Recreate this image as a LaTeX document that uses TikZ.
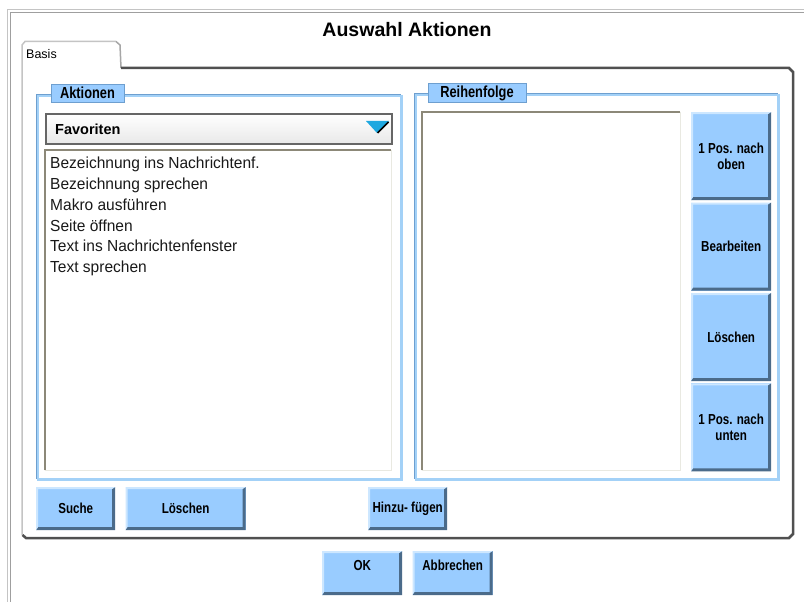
\documentclass[tikz,border=0pt]{standalone}
\usepackage{fontspec}
\setmainfont{Liberation Sans}
\newfontfamily\btnfont[FakeStretch=0.8]{Liberation Sans}
\newfontfamily\listfont[FakeStretch=0.97]{Liberation Sans}
\usepackage{tikz}
\usetikzlibrary{positioning}

\definecolor{btnfill}{HTML}{99CCFF}
\definecolor{btnlite}{HTML}{CDE7FF}
\definecolor{btndark}{HTML}{4B6B8A}
\definecolor{grplite}{HTML}{A3D1F7}
\definecolor{grpdark}{HTML}{6E9FCF}
\definecolor{lstedge}{HTML}{8C8878}
\definecolor{lstlite}{HTML}{E9E9E1}
\definecolor{pnldark}{HTML}{505050}
\definecolor{pnllite}{HTML}{C4C4C4}
\definecolor{arrowcyan}{HTML}{1FA8E0}

\tikzset{
  btn/.style={fill=btnfill, inner sep=0pt, align=center, text=black,
    font=\btnfont\bfseries\fontsize{14.5}{15.5}\selectfont,
    path picture={
      \fill[btnlite] (path picture bounding box.south west) -- (path picture bounding box.north west)
        -- (path picture bounding box.north east) -- ([xshift=-3pt,yshift=-2pt]path picture bounding box.north east)
        -- ([xshift=2pt,yshift=-2pt]path picture bounding box.north west) -- ([xshift=2pt,yshift=3pt]path picture bounding box.south west) -- cycle;
      \fill[btndark] (path picture bounding box.north east) -- (path picture bounding box.south east)
        -- (path picture bounding box.south west) -- ([xshift=2pt,yshift=3pt]path picture bounding box.south west)
        -- ([xshift=-3pt,yshift=3pt]path picture bounding box.south east) -- ([xshift=-3pt,yshift=-2pt]path picture bounding box.north east) -- cycle;
    }},
  sidebtn/.style={btn, minimum width=80pt, minimum height=88pt},
  lowbtn/.style={btn, minimum width=79pt, minimum height=43pt},
  dlgbtn/.style={btn, minimum width=80pt, minimum height=44pt, text depth=15pt},
  grphead/.style={fill=btnfill, draw=grpdark, line width=0.6pt, inner sep=0pt,
    font=\btnfont\bfseries\fontsize{16}{17}\selectfont},
  lst/.style={fill=white, inner sep=0pt}
}

\begin{document}
\begin{tikzpicture}[x=1pt, y=-1pt]
  \useasboundingbox (0,0) rectangle (804,602);
  \fill[white] (0,0) rectangle (804,602);

  % Window frame
  \draw[pnllite, line width=1pt] (7.5,602) -- (7.5,10) -- (804,10);
  \draw[gray!75, line width=1pt] (10.5,602) -- (10.5,12.5) -- (804,12.5);

  % Title
  \node[font=\bfseries\fontsize{19.5}{22}\selectfont] (title) at (407,30) {Auswahl Aktionen};

  % Tab and panel
  \draw[pnllite, line width=1.5pt] (22,535) -- (22,45) -- (25,41.5) -- (116,41.5);
  \draw[gray!70, line width=1.5pt] (116,41.5) -- (120,45) -- (121,68);
  \draw[pnldark, line width=2.5pt] (121,68) -- (789,68) -- (793,72) -- (793,534) -- (789,538) -- (26,538) -- (22.5,535);
  \node[anchor=west, font=\fontsize{12.5}{14}\selectfont, inner sep=0pt] (tab) at (26,54) {Basis};

  % Group frames
  \draw[grpdark, line width=0.8pt] (36,94) rectangle (400,478);
  \draw[grplite, line width=2.2pt] (38,96) rectangle (401.5,479.5);
  \draw[grpdark, line width=0.8pt] (414,93) rectangle (777,478);
  \draw[grplite, line width=2.2pt] (416,95) rectangle (778.5,479.5);
  \node[grphead, minimum width=73pt, minimum height=18pt] (aktionen) at (87.5,93) {Aktionen};
  \node[grphead, minimum width=98pt, minimum height=19pt] (reihen) at (477,93) {Reihenfolge};

  % Combo box
  \node[draw=gray!80!black, line width=2pt, top color=white, bottom color=gray!18,
        minimum width=346pt, minimum height=30pt, anchor=north west] (favoriten) at (45,113) {};
  \node[anchor=west, inner sep=0pt, font=\bfseries\fontsize{14.5}{16}\selectfont] (favtext) at ([xshift=10pt]favoriten.west) {Favoriten};
  \fill[arrowcyan] (366,121) -- (389,121) -- (377,133) -- cycle;
  \draw[black, line width=1.6pt] (388.5,122) -- (377.5,133);

  % Lists
  \node[lst, minimum width=346pt, minimum height=320pt, anchor=north west] (liste) at (45,150) {};
  \draw[lstedge, line width=1.5pt] (liste.south west) -- (liste.north west) -- (liste.north east);
  \draw[lstlite, line width=1.5pt] (liste.north east) -- (liste.south east) -- (liste.south west);
  \node[lst, minimum width=258pt, minimum height=358pt, anchor=north west] (reihenliste) at (422,112) {};
  \draw[lstedge, line width=1.5pt] (reihenliste.south west) -- (reihenliste.north west) -- (reihenliste.north east);
  \draw[lstlite, line width=1.5pt] (reihenliste.north east) -- (reihenliste.south east) -- (reihenliste.south west);

  \node[anchor=north west, align=left, inner sep=0pt, text=black!90,
        font=\listfont\fontsize{16}{20.8}\selectfont] (items) at (50,157)
    {Bezeichnung ins Nachrichtenf.\\Bezeichnung sprechen\\Makro ausführen\\Seite öffnen\\Text ins Nachrichtenfenster\\Text sprechen};

  % Side buttons
  \node[sidebtn, anchor=north west] (up) at (691,112) {1 Pos. nach\\oben};
  \node[sidebtn, below=2pt of up] (edit) {Bearbeiten};
  \node[sidebtn, below=2pt of edit] (del) {Löschen};
  \node[sidebtn, below=2pt of del] (down) {1 Pos. nach\\unten};

  % Bottom buttons
  \node[lowbtn, anchor=north west] (suche) at (36,487) {Suche};
  \node[lowbtn, minimum width=120pt, right=10pt of suche] (loeschen) {Löschen};
  \node[lowbtn, anchor=north west] (hinzu) at (368,487) {Hinzu- fügen};

  % Dialog buttons
  \node[dlgbtn, anchor=north west] (ok) at (322,551) {OK};
  \node[dlgbtn, right=10pt of ok] (abbrechen) {Abbrechen};

\end{tikzpicture}
\end{document}
